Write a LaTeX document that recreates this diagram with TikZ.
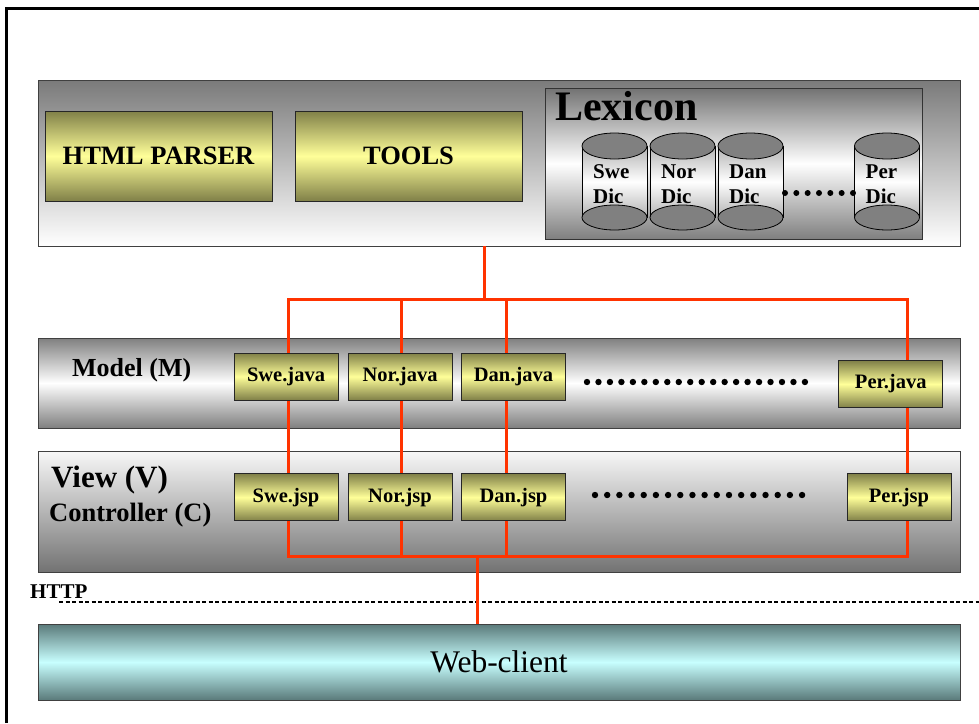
\documentclass[tikz,border=0pt]{standalone}
\usepackage{fontspec}
\setmainfont{Liberation Serif}
\definecolor{wirered}{RGB}{255,51,0}
\definecolor{olivedark}{RGB}{128,128,72}
\definecolor{paleyellow}{RGB}{255,255,153}
\definecolor{tealdark}{RGB}{90,122,122}
\definecolor{palecyan}{RGB}{200,255,255}
\tikzset{
  panel/.style={draw=black!75, line width=0.8pt, minimum width=922pt, inner sep=0pt},
  yellowbox/.style={draw=black!85, line width=0.8pt, inner sep=0pt,
    top color=olivedark, bottom color=olivedark, middle color=paleyellow},
  bigbox/.style={yellowbox, minimum width=227pt, minimum height=90pt,
    font=\fontsize{26.5}{30}\selectfont\bfseries},
  smallbox/.style={yellowbox, minimum width=104pt, minimum height=47pt,
    font=\fontsize{20.5}{24}\selectfont\bfseries},
  diclabel/.style={inner sep=0pt, align=left, font=\fontsize{21}{25}\selectfont\bfseries},
  redwire/.style={draw=wirered, line width=3pt}
}
\begin{document}
\begin{tikzpicture}[x=1pt,y=-1pt]
  \useasboundingbox (0,0) rectangle (979,723);
  \draw[line width=3pt] (6,723) -- (6,8) -- (979,8);

  \node[panel, minimum height=166pt, top color=black!52, bottom color=white] (top) at (499,163) {};
  \node[panel, minimum height=90pt, top color=black!50, bottom color=black!50, middle color=white] (model) at (499,383) {};
  \node[panel, minimum height=121pt, top color=black!3, bottom color=black!55] (view) at (499,511.5) {};
  \node[panel, minimum height=76pt, top color=tealdark, bottom color=tealdark, middle color=palecyan,
    font=\fontsize{31.5}{36}\selectfont] (web) at (499,662) {Web-client};

  \node[bigbox] (parser) at (158.5,156) {HTML PARSER};
  \node[bigbox] (tools) at (408.5,156) {TOOLS};

  \node[draw=black!80, line width=0.8pt, minimum width=377pt, minimum height=151pt, inner sep=0pt,
    top color=black!55, bottom color=black!50, middle color=white] (lexicon) at (733.5,163.5) {};
  \node[anchor=base west, inner sep=0pt, font=\fontsize{42}{46}\selectfont\bfseries] (lexlabel) at (555,120) {Lexicon};
  \foreach \cx/\lang in {614.5/Swe, 682.5/Nor, 750.5/Dan, 887/Per} {
    \shade[top color=black!30, bottom color=black!30, middle color=white] (\cx-32.5,146) rectangle (\cx+32.5,217.5);
    \draw[line width=0.8pt] (\cx-32.5,146) -- (\cx-32.5,217.5) (\cx+32.5,146) -- (\cx+32.5,217.5);
    \filldraw[fill=black!50, line width=0.8pt] (\cx,217.5) ellipse [x radius=32.5, y radius=12.5];
    \filldraw[fill=black!50, line width=0.8pt] (\cx,146) ellipse [x radius=32.5, y radius=13];
    \node[diclabel, anchor=west] (dic\lang) at (\cx-21.5,184.5) {\lang\\Dic};
  }
  \foreach \i in {0,...,6} \fill (785+\i*11.33,193) circle (3pt);

  \node[anchor=base west, inner sep=0pt, font=\fontsize{26}{30}\selectfont\bfseries] (mlabel) at (72,376) {Model (M)};
  \node[anchor=base west, inner sep=0pt, font=\fontsize{31}{34}\selectfont\bfseries] (vlabel) at (51,487) {View (V)};
  \node[anchor=base west, inner sep=0pt, font=\fontsize{26.5}{30}\selectfont\bfseries] (clabel) at (49,521) {Controller (C)};
  \node[anchor=base west, inner sep=0pt, font=\fontsize{21}{24}\selectfont\bfseries] (http) at (30,598) {HTTP};

  \coordinate (dashL) at (59,602);
  \coordinate (dashR) at (979,602);
  \draw[line width=1.5pt, dash pattern=on 4pt off 2.5pt] (dashL) -- (dashR);

  \coordinate (hub) at (484,299);
  \coordinate (swetap) at (288,299);
  \coordinate (nortap) at (401,299);
  \coordinate (dantap) at (506,299);
  \coordinate (pertap) at (907,299);
  \coordinate (swebus) at (288,556);
  \coordinate (norbus) at (401,556);
  \coordinate (danbus) at (506,556);
  \coordinate (perbus) at (907,556);
  \coordinate (webhub) at (477,556);
  \draw[redwire] (top.south -| hub) -- (hub);
  \draw[redwire] (swebus) -- (swetap) -- (pertap) -- (perbus) -- cycle;
  \draw[redwire] (nortap) -- (norbus);
  \draw[redwire] (dantap) -- (danbus);
  \draw[redwire] (webhub) -- (web.north -| webhub);

  \node[smallbox] (swejava) at (286,376.5) {Swe.java};
  \node[smallbox] (norjava) at (400,376.5) {Nor.java};
  \node[smallbox] (danjava) at (513.5,376.5) {Dan.java};
  \node[smallbox] (perjava) at (890.75,384) {Per.java};
  \node[smallbox] (swejsp) at (286,497.25) {Swe.jsp};
  \node[smallbox] (norjsp) at (400,497.25) {Nor.jsp};
  \node[smallbox] (danjsp) at (513.5,497.25) {Dan.jsp};
  \node[smallbox] (perjsp) at (899,497.25) {Per.jsp};
  \foreach \i in {0,...,19} \fill (587+\i*11.47,382) circle (3.2pt);
  \foreach \i in {0,...,17} \fill (595+\i*12.18,495) circle (3.2pt);
\end{tikzpicture}
\end{document}
